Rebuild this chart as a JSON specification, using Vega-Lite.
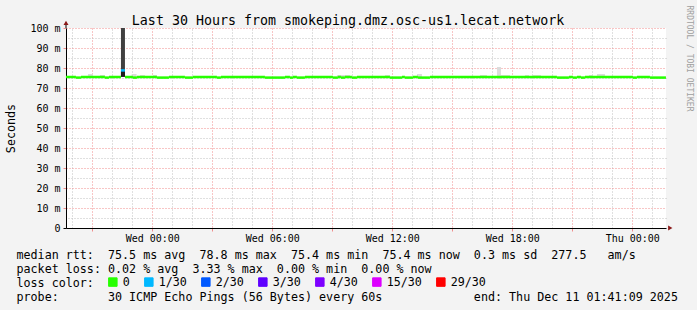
{
  "$schema": "https://vega.github.io/schema/vega-lite/v6.json",
  "width": 600,
  "height": 200,
  "autosize": "none",
  "padding": {"left": 66, "top": 28, "right": 31, "bottom": 82},
  "config": {
    "background": "#f3f3f3",
    "view": {"fill": "#ffffff", "stroke": null},
    "font": "DejaVu Sans Mono",
    "axis": {"labelFont": "DejaVu Sans Mono", "titleFont": "DejaVu Sans Mono", "titleFontWeight": "normal", "labelColor": "#000000", "titleColor": "#000000", "gridDash": [1, 2], "gridOpacity": 1},
    "legend": {"labelFont": "DejaVu Sans Mono"}
  },
  "datasets": {
    "smoke": [
      {"t0": "2025-12-09T20:47", "t1": "2025-12-09T21:02", "lo": 75.3, "hi": 77, "shade": "light"},
      {"t0": "2025-12-09T21:23", "t1": "2025-12-09T21:38", "lo": 75.3, "hi": 76.5, "shade": "light"},
      {"t0": "2025-12-09T22:26", "t1": "2025-12-09T22:38", "lo": 75.6, "hi": 100, "shade": "dark"},
      {"t0": "2025-12-09T22:26", "t1": "2025-12-09T22:38", "lo": 75.6, "hi": 78.4, "shade": "darkest"},
      {"t0": "2025-12-09T22:58", "t1": "2025-12-09T23:13", "lo": 75.3, "hi": 77, "shade": "light"},
      {"t0": "2025-12-09T23:23", "t1": "2025-12-09T23:38", "lo": 75.3, "hi": 76.5, "shade": "light"},
      {"t0": "2025-12-10T00:02", "t1": "2025-12-10T00:14", "lo": 75.3, "hi": 76.5, "shade": "light"},
      {"t0": "2025-12-10T09:14", "t1": "2025-12-10T09:53", "lo": 75.3, "hi": 76.5, "shade": "light"},
      {"t0": "2025-12-10T11:38", "t1": "2025-12-10T11:53", "lo": 75.3, "hi": 76.5, "shade": "light"},
      {"t0": "2025-12-10T13:14", "t1": "2025-12-10T13:29", "lo": 75.3, "hi": 77, "shade": "light"},
      {"t0": "2025-12-10T16:23", "t1": "2025-12-10T16:44", "lo": 75.3, "hi": 76.5, "shade": "light"},
      {"t0": "2025-12-10T17:14", "t1": "2025-12-10T17:26", "lo": 74.5, "hi": 80.5, "shade": "light"},
      {"t0": "2025-12-10T17:26", "t1": "2025-12-10T17:53", "lo": 75.3, "hi": 76.5, "shade": "light"},
      {"t0": "2025-12-10T18:38", "t1": "2025-12-10T18:50", "lo": 75.3, "hi": 76.5, "shade": "light"},
      {"t0": "2025-12-10T19:02", "t1": "2025-12-10T19:26", "lo": 75.3, "hi": 76.5, "shade": "light"},
      {"t0": "2025-12-10T21:50", "t1": "2025-12-10T22:02", "lo": 75.3, "hi": 76.5, "shade": "light"},
      {"t0": "2025-12-10T22:14", "t1": "2025-12-10T22:38", "lo": 75.3, "hi": 77, "shade": "light"}
    ],
    "median": [
      {"t0": "2025-12-09T19:41", "t1": "2025-12-09T20:11", "med": 75.5, "loss": "0"},
      {"t0": "2025-12-09T20:11", "t1": "2025-12-09T20:26", "med": 75.2, "loss": "0"},
      {"t0": "2025-12-09T20:26", "t1": "2025-12-09T21:38", "med": 75.5, "loss": "0"},
      {"t0": "2025-12-09T21:38", "t1": "2025-12-09T21:50", "med": 75.2, "loss": "0"},
      {"t0": "2025-12-09T21:50", "t1": "2025-12-09T22:26", "med": 75.5, "loss": "0"},
      {"t0": "2025-12-09T22:26", "t1": "2025-12-09T22:38", "med": 78.8, "loss": "1/30"},
      {"t0": "2025-12-09T22:38", "t1": "2025-12-09T23:02", "med": 75.5, "loss": "0"},
      {"t0": "2025-12-09T23:02", "t1": "2025-12-09T23:14", "med": 75.2, "loss": "0"},
      {"t0": "2025-12-09T23:14", "t1": "2025-12-10T00:14", "med": 75.5, "loss": "0"},
      {"t0": "2025-12-10T00:14", "t1": "2025-12-10T00:50", "med": 75.2, "loss": "0"},
      {"t0": "2025-12-10T00:50", "t1": "2025-12-10T01:38", "med": 75.5, "loss": "0"},
      {"t0": "2025-12-10T01:38", "t1": "2025-12-10T02:02", "med": 75.2, "loss": "0"},
      {"t0": "2025-12-10T02:02", "t1": "2025-12-10T03:14", "med": 75.5, "loss": "0"},
      {"t0": "2025-12-10T03:14", "t1": "2025-12-10T03:26", "med": 75.2, "loss": "0"},
      {"t0": "2025-12-10T03:26", "t1": "2025-12-10T05:38", "med": 75.5, "loss": "0"},
      {"t0": "2025-12-10T05:38", "t1": "2025-12-10T06:38", "med": 75.2, "loss": "0"},
      {"t0": "2025-12-10T06:38", "t1": "2025-12-10T06:53", "med": 75.5, "loss": "0"},
      {"t0": "2025-12-10T06:53", "t1": "2025-12-10T07:02", "med": 75.2, "loss": "0"},
      {"t0": "2025-12-10T07:02", "t1": "2025-12-10T07:14", "med": 75.5, "loss": "0"},
      {"t0": "2025-12-10T07:14", "t1": "2025-12-10T07:38", "med": 75.2, "loss": "0"},
      {"t0": "2025-12-10T07:38", "t1": "2025-12-10T09:02", "med": 75.5, "loss": "0"},
      {"t0": "2025-12-10T09:02", "t1": "2025-12-10T09:17", "med": 75.2, "loss": "0"},
      {"t0": "2025-12-10T09:17", "t1": "2025-12-10T09:26", "med": 75.5, "loss": "0"},
      {"t0": "2025-12-10T09:26", "t1": "2025-12-10T09:38", "med": 75.2, "loss": "0"},
      {"t0": "2025-12-10T09:38", "t1": "2025-12-10T09:59", "med": 75.5, "loss": "0"},
      {"t0": "2025-12-10T09:59", "t1": "2025-12-10T10:14", "med": 75.2, "loss": "0"},
      {"t0": "2025-12-10T10:14", "t1": "2025-12-10T11:53", "med": 75.5, "loss": "0"},
      {"t0": "2025-12-10T11:53", "t1": "2025-12-10T12:29", "med": 75.2, "loss": "0"},
      {"t0": "2025-12-10T12:29", "t1": "2025-12-10T12:38", "med": 75.5, "loss": "0"},
      {"t0": "2025-12-10T12:38", "t1": "2025-12-10T13:02", "med": 75.2, "loss": "0"},
      {"t0": "2025-12-10T13:02", "t1": "2025-12-10T13:17", "med": 75.5, "loss": "0"},
      {"t0": "2025-12-10T13:17", "t1": "2025-12-10T13:53", "med": 75.2, "loss": "0"},
      {"t0": "2025-12-10T13:53", "t1": "2025-12-10T20:14", "med": 75.5, "loss": "0"},
      {"t0": "2025-12-10T20:14", "t1": "2025-12-10T20:50", "med": 75.2, "loss": "0"},
      {"t0": "2025-12-10T20:50", "t1": "2025-12-10T21:02", "med": 75.5, "loss": "0"},
      {"t0": "2025-12-10T21:02", "t1": "2025-12-10T21:14", "med": 75.2, "loss": "0"},
      {"t0": "2025-12-10T21:14", "t1": "2025-12-10T21:26", "med": 75.5, "loss": "0"},
      {"t0": "2025-12-10T21:26", "t1": "2025-12-10T21:38", "med": 75.2, "loss": "0"},
      {"t0": "2025-12-10T21:38", "t1": "2025-12-11T00:02", "med": 75.5, "loss": "0"},
      {"t0": "2025-12-11T00:02", "t1": "2025-12-11T00:14", "med": 75.2, "loss": "0"},
      {"t0": "2025-12-11T00:14", "t1": "2025-12-11T00:53", "med": 75.5, "loss": "0"},
      {"t0": "2025-12-11T00:53", "t1": "2025-12-11T01:41", "med": 75.2, "loss": "0"}
    ]
  },
  "resolve": {"axis": {"x": "independent", "y": "independent"}},
  "layer": [
    {
      "data": {"name": "smoke"},
      "mark": {"type": "rect"},
      "encoding": {
        "x": {
          "field": "t0", "type": "temporal",
          "scale": {"domain": [{"year": 2025, "month": 12, "date": 9, "hours": 19, "minutes": 41, "seconds": 9}, {"year": 2025, "month": 12, "date": 11, "hours": 1, "minutes": 41, "seconds": 9}]},
          "axis": {
            "orient": "top",
            "values": [
              {"year": 2025, "month": 12, "date": 9, "hours": 20}, {"year": 2025, "month": 12, "date": 9, "hours": 22}, {"year": 2025, "month": 12, "date": 9, "hours": 23},
              {"year": 2025, "month": 12, "date": 10, "hours": 1}, {"year": 2025, "month": 12, "date": 10, "hours": 2}, {"year": 2025, "month": 12, "date": 10, "hours": 4}, {"year": 2025, "month": 12, "date": 10, "hours": 5},
              {"year": 2025, "month": 12, "date": 10, "hours": 7}, {"year": 2025, "month": 12, "date": 10, "hours": 8}, {"year": 2025, "month": 12, "date": 10, "hours": 10}, {"year": 2025, "month": 12, "date": 10, "hours": 11},
              {"year": 2025, "month": 12, "date": 10, "hours": 13}, {"year": 2025, "month": 12, "date": 10, "hours": 14}, {"year": 2025, "month": 12, "date": 10, "hours": 16}, {"year": 2025, "month": 12, "date": 10, "hours": 17},
              {"year": 2025, "month": 12, "date": 10, "hours": 19}, {"year": 2025, "month": 12, "date": 10, "hours": 20}, {"year": 2025, "month": 12, "date": 10, "hours": 22}, {"year": 2025, "month": 12, "date": 10, "hours": 23},
              {"year": 2025, "month": 12, "date": 11, "hours": 1}
            ],
            "grid": true, "gridColor": "#c0c0c0", "labels": false, "ticks": false, "domain": false,
            "title": "Last 30 Hours from smokeping.dmz.osc-us1.lecat.network",
            "titleX": 281.5, "titleY": -4, "titleAlign": "center", "titleBaseline": "alphabetic", "titleFontSize": 13.3, "titleAngle": 0
          }
        },
        "x2": {"field": "t1"},
        "y": {
          "field": "lo", "type": "quantitative",
          "scale": {"domain": [0, 100], "nice": false},
          "axis": {
            "orient": "right",
            "values": [5, 15, 25, 35, 45, 55, 65, 75, 85, 95],
            "grid": true, "gridColor": "#c0c0c0", "labels": false, "ticks": false, "domain": false,
            "title": "RRDTOOL / TOBI OETIKER",
            "titleX": 22, "titleY": -23, "titleAngle": 90, "titleAlign": "left", "titleBaseline": "middle", "titleFontSize": 8, "titleColor": "#a0a0a0"
          }
        },
        "y2": {"field": "hi"},
        "fill": {"field": "shade", "type": "nominal", "scale": {"domain": ["light", "dark", "darkest"], "range": ["#dcdcdc", "#404040", "#1c1c1c"]}, "legend": null}
      }
    },
    {
      "data": {"name": "median"},
      "mark": {"type": "rule", "strokeWidth": 2.5},
      "encoding": {
        "x": {
          "field": "t0", "type": "temporal",
          "scale": {"domain": [{"year": 2025, "month": 12, "date": 9, "hours": 19, "minutes": 41, "seconds": 9}, {"year": 2025, "month": 12, "date": 11, "hours": 1, "minutes": 41, "seconds": 9}]},
          "axis": {
            "orient": "bottom",
            "values": [
              {"year": 2025, "month": 12, "date": 9, "hours": 21},
              {"year": 2025, "month": 12, "date": 10, "hours": 0}, {"year": 2025, "month": 12, "date": 10, "hours": 3}, {"year": 2025, "month": 12, "date": 10, "hours": 6},
              {"year": 2025, "month": 12, "date": 10, "hours": 9}, {"year": 2025, "month": 12, "date": 10, "hours": 12}, {"year": 2025, "month": 12, "date": 10, "hours": 15},
              {"year": 2025, "month": 12, "date": 10, "hours": 18}, {"year": 2025, "month": 12, "date": 10, "hours": 21},
              {"year": 2025, "month": 12, "date": 11, "hours": 0}
            ],
            "grid": true, "gridColor": "#f08c8c",
            "labelExpr": "hours(datum.value) % 6 == 0 ? timeFormat(datum.value, '%a %H:%M') : ''",
            "labelFontSize": 10, "labelPadding": 2, "labelFlush": false, "labelOverlap": false,
            "tickSize": 3, "tickColor": "#f08c8c", "domainColor": "#000000",
            "title": [
              "median\u00a0rtt:\u00a0\u00a075.5\u00a0ms\u00a0avg\u00a0\u00a078.8\u00a0ms\u00a0max\u00a0\u00a075.4\u00a0ms\u00a0min\u00a0\u00a075.4\u00a0ms\u00a0now\u00a0\u00a00.3\u00a0ms\u00a0sd\u00a0\u00a0277.5\u00a0\u00a0\u00a0am/s",
              "packet\u00a0loss:\u00a00.02\u00a0%\u00a0avg\u00a0\u00a03.33\u00a0%\u00a0max\u00a0\u00a00.00\u00a0%\u00a0min\u00a0\u00a00.00\u00a0%\u00a0now",
              "loss\u00a0color:",
              "probe:\u00a0\u00a0\u00a0\u00a0\u00a0\u00a0\u00a030\u00a0ICMP\u00a0Echo\u00a0Pings\u00a0(56\u00a0Bytes)\u00a0every\u00a060s\u00a0\u00a0\u00a0\u00a0\u00a0\u00a0\u00a0\u00a0\u00a0\u00a0\u00a0\u00a0\u00a0end:\u00a0Thu\u00a0Dec\u00a011\u00a001:41:09\u00a02025"
            ],
            "titleX": -50, "titleY": 30.3, "titleAlign": "left", "titleBaseline": "alphabetic", "titleFontSize": 11.7, "titleLineHeight": 14, "titleAngle": 0
          }
        },
        "x2": {"field": "t1"},
        "y": {
          "field": "med", "type": "quantitative",
          "scale": {"domain": [0, 100], "nice": false},
          "axis": {
            "orient": "left",
            "values": [0, 10, 20, 30, 40, 50, 60, 70, 80, 90, 100],
            "grid": true,
            "gridColor": {"condition": {"test": "datum.value == 0", "value": "transparent"}, "value": "#f08c8c"},
            "labelExpr": "datum.value == 0 ? '0\u00a0\u00a0' : datum.value + '\u00a0m'",
            "labelFontSize": 10, "labelPadding": 3,
            "tickSize": 3,
            "tickColor": {"condition": {"test": "datum.value == 0", "value": "#000000"}, "value": "#f08c8c"},
            "domainColor": "#000000",
            "title": "Seconds",
            "titleX": -56, "titleY": 100, "titleAngle": -90, "titleAlign": "center", "titleBaseline": "middle", "titleFontSize": 11.7
          }
        },
        "color": {
          "field": "loss", "type": "nominal",
          "scale": {"domain": ["0", "1/30", "2/30", "3/30", "4/30", "15/30", "29/30"], "range": ["#26ff00", "#00b8ff", "#0059ff", "#5e00ff", "#7e00ff", "#dd00ff", "#ff0000"]},
          "legend": {
            "orient": "none", "legendX": 41, "legendY": 248, "direction": "horizontal", "title": null,
            "symbolType": "square", "symbolSize": 72, "symbolStrokeWidth": 1,
            "labelFontSize": 11.7, "labelColor": "#000000", "labelOffset": 4, "columnPadding": 12, "padding": 0,
            "encode": {"symbols": {"update": {"fill": {"scale": "color", "field": "value"}, "stroke": {"value": "#000000"}, "strokeWidth": {"value": 1}, "opacity": {"value": 1}}}}
          }
        }
      }
    },
    {
      "data": {"values": [{}]},
      "mark": {"type": "rule", "color": "#000000", "strokeWidth": 1},
      "encoding": {
        "x": {"datum": {"year": 2025, "month": 12, "date": 9, "hours": 19, "minutes": 41, "seconds": 9}, "type": "temporal", "axis": null},
        "y": {"datum": 100, "type": "quantitative", "axis": null},
        "y2": {"datum": 102}
      }
    },
    {
      "data": {"values": [{}]},
      "mark": {"type": "point", "shape": "triangle-up", "filled": true, "color": "#8b1a1a", "size": 25, "opacity": 1},
      "encoding": {
        "x": {"datum": {"year": 2025, "month": 12, "date": 9, "hours": 19, "minutes": 41, "seconds": 9}, "type": "temporal", "axis": null},
        "y": {"datum": 102.6, "type": "quantitative", "axis": null}
      }
    },
    {
      "data": {"values": [{}]},
      "mark": {"type": "point", "shape": "triangle-right", "filled": true, "color": "#8b1a1a", "size": 25, "opacity": 1},
      "encoding": {
        "x": {"datum": {"year": 2025, "month": 12, "date": 11, "hours": 1, "minutes": 54}, "type": "temporal", "axis": null},
        "y": {"datum": 0, "type": "quantitative", "axis": null}
      }
    }
  ]
}
